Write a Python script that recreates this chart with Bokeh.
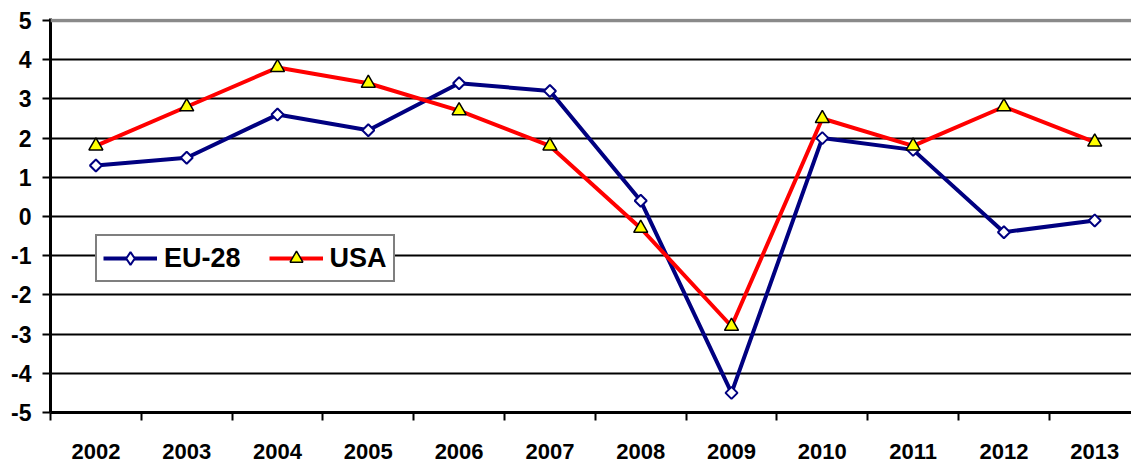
import numpy as np
from bokeh.plotting import figure
from bokeh.models import Range1d, FixedTicker, Span, Legend, LegendItem
from bokeh.embed import file_html
from bokeh.resources import INLINE

years = [2002, 2003, 2004, 2005, 2006, 2007, 2008, 2009, 2010, 2011, 2012, 2013]
eu28 = [1.3, 1.5, 2.6, 2.2, 3.4, 3.2, 0.4, -4.5, 2.0, 1.7, -0.4, -0.1]
usa = [1.8, 2.8, 3.8, 3.4, 2.7, 1.8, -0.3, -2.8, 2.5, 1.8, 2.8, 1.9]
y_ticks = [-5, -4, -3, -2, -1, 0, 1, 2, 3, 4, 5]
y_labels = ["-5", "-4", "-3", "-2", "-1", "0", "1", "2", "3", "4", "5"]
year_labels = [str(y) for y in years]

FONT = "Liberation Sans"

p = figure(width=1131, height=462, output_backend="svg", toolbar_location=None,
           x_range=Range1d(years[0] - 0.5, years[0] - 0.5 + 11.905),
           y_range=Range1d(-5, 5.051),
           min_border_left=50, min_border_right=0, min_border_top=18, min_border_bottom=50)
p.outline_line_color = None
p.background_fill_color = "white"
p.xgrid.visible = False

# horizontal gridlines
p.ygrid.ticker = FixedTicker(ticks=[t for t in y_ticks if -5 < t < 5])
p.ygrid.grid_line_color = "black"
p.ygrid.grid_line_width = 2

# top gray line
p.add_layout(Span(location=y_ticks[-1], dimension="width", line_color="#8a8a8a", line_width=3.5))

# y axis
p.yaxis.ticker = FixedTicker(ticks=y_ticks)
p.yaxis.major_label_overrides = {t: lab for t, lab in zip(y_ticks, y_labels)}
p.yaxis.axis_line_width = 3
p.yaxis.axis_line_color = "black"
p.yaxis.major_tick_out = 8
p.yaxis.major_tick_in = 0
p.yaxis.major_tick_line_width = 2
p.yaxis.minor_tick_line_color = None
p.yaxis.major_label_text_font = FONT
p.yaxis.major_label_text_font_style = "bold"
p.yaxis.major_label_text_font_size = "23px"
p.yaxis.major_label_text_color = "black"
p.yaxis.major_label_standoff = 11

# x axis: labels at category centres, tick marks between categories
p.xaxis.ticker = FixedTicker(ticks=years, minor_ticks=[y - 0.5 for y in years] + [years[-1] + 0.5])
p.xaxis.major_label_overrides = {y: lab for y, lab in zip(years, year_labels)}
p.xaxis.axis_line_width = 3
p.xaxis.axis_line_color = "black"
p.xaxis.major_tick_line_color = None
p.xaxis.major_tick_out = 0
p.xaxis.major_tick_in = 0
p.xaxis.minor_tick_out = 8
p.xaxis.minor_tick_in = 0
p.xaxis.minor_tick_line_width = 2
p.xaxis.minor_tick_line_color = "black"
p.xaxis.major_label_text_font = FONT
p.xaxis.major_label_text_font_style = "bold"
p.xaxis.major_label_text_font_size = "22px"
p.xaxis.major_label_text_color = "black"
p.xaxis.major_label_standoff = 23

eu_line = p.line(years, eu28, line_color="#000080", line_width=4)
eu_pts = p.scatter(years, eu28, marker="square", angle=np.pi / 4, size=8.5,
                   fill_color="white", line_color="#000080", line_width=2)
us_line = p.line(years, usa, line_color="#ff0000", line_width=4)
us_pts = p.scatter(years, usa, marker="triangle", size=14,
                   fill_color="#ffff00", line_color="black", line_width=1.5)

# legend-only marker (legend glyphs ignore marker angle)
eu_leg = p.scatter([np.nan], [np.nan], marker="diamond", size=15,
                   fill_color="white", line_color="#000080", line_width=2)

legend = Legend(items=[LegendItem(label="EU-28", renderers=[eu_line, eu_leg]),
                       LegendItem(label="USA", renderers=[us_line, us_pts])],
                location=(45, 130), orientation="horizontal",
                border_line_color="black", border_line_width=2,
                background_fill_color="white", background_fill_alpha=1,
                label_text_font=FONT, label_text_font_style="bold",
                label_text_font_size="27px", label_text_color="black",
                glyph_width=54, glyph_height=32, padding=6, spacing=28,
                label_standoff=7, margin=0)
p.add_layout(legend)

open("out.html", "w").write(file_html(p, INLINE))
